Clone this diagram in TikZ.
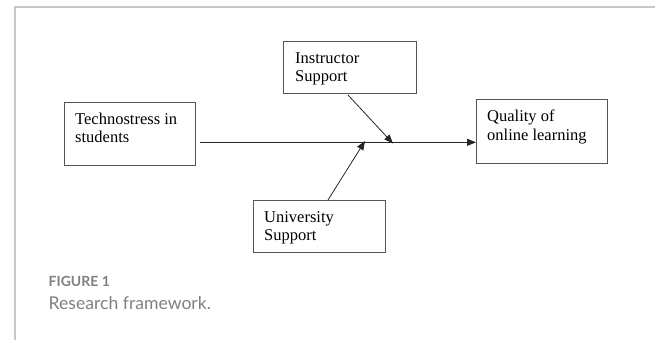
\documentclass[tikz,border=0pt]{standalone}
\usepackage{fontspec}
\setmainfont{Liberation Serif}
\newfontfamily\capfont{Lato}
\usetikzlibrary{arrows.meta}
\definecolor{framegray}{HTML}{C8C8C8}
\definecolor{boxgray}{HTML}{555555}
\definecolor{capgray}{HTML}{808080}
\begin{document}
\begin{tikzpicture}[x=1pt,y=-1pt,
  boxst/.style={draw=boxgray,line width=1.1pt,rectangle,inner sep=0pt,anchor=north west},
  txt/.style={anchor=base west,inner sep=0pt,font=\fontsize{16.5}{18.7}\selectfont,align=left},
  conn/.style={draw=black!85,line width=0.8pt,-{Triangle[length=9pt,width=7pt]}},
  framest/.style={draw=framegray,line width=2pt}]
\useasboundingbox (0,0) rectangle (655,340);
% frame
\coordinate (fc) at (14.6,7);
\coordinate (fr) at (655,7);
\coordinate (fb) at (14.6,340);
\draw[framest] (fr) -- (fc) -- (fb);
% boxes
\node[boxst,minimum width=131.5pt,minimum height=63pt] (tech) at (63.5,102) {};
\node[boxst,minimum width=133pt,minimum height=52pt] (instr) at (283,41) {};
\node[boxst,minimum width=131pt,minimum height=63.7pt] (qual) at (476,99.3) {};
\node[boxst,minimum width=132pt,minimum height=52pt] (univ) at (253,200) {};
% texts (anchor = baseline of last line)
\node[txt] (techt) at (75,142.7) {Technostress in\\students};
\node[txt] (instrt) at (295,81.7) {Instructor\\Support};
\node[txt] (qualt) at (487,140.2) {Quality of\\online learning};
\node[txt] (univt) at (264,240.7) {University\\Support};
% connectors
\coordinate (s) at (200,142.3);
\coordinate (tipI) at (393,143.5);
\coordinate (tipU) at (365,141);
\coordinate (stI) at (348,95);
\coordinate (stU) at (328,200);
\draw[conn] (s) -- (s -| qual.west);
\draw[conn] (stI) -- (tipI);
\draw[conn] (stU) -- (tipU);
% caption
\node[anchor=base west,inner sep=0pt,text=capgray,font=\capfont\bfseries\fontsize{14}{16}\selectfont] (figlab) at (48.5,286) {FIGURE 1};
\node[anchor=base west,inner sep=0pt,text=capgray,font=\capfont\fontsize{17.6}{20}\selectfont] (figcap) at (48.5,309.5) {Research framework.};
\end{tikzpicture}
\end{document}
